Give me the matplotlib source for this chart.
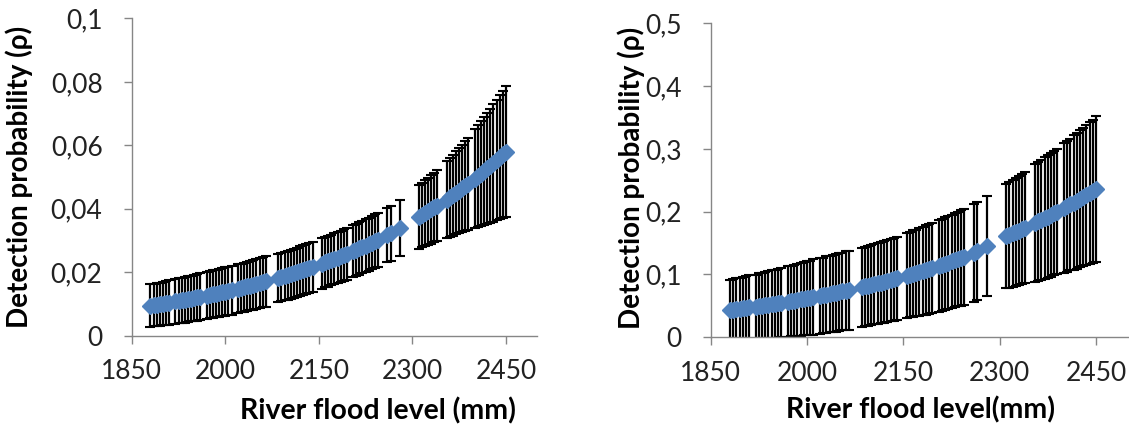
import matplotlib
matplotlib.use("Agg")
import matplotlib.pyplot as plt
from matplotlib.ticker import FuncFormatter

plt.rcParams['font.family'] = ['Lato', 'DejaVu Sans']

# river flood level (mm), same for both panels
niveau = [1880, 1885, 1890, 1895, 1900, 1905, 1910,
          1920, 1925, 1930, 1935, 1940, 1945, 1950, 1955, 1960,
          1970, 1975, 1980, 1985, 1990, 1995, 2000, 2005, 2010,
          2020, 2025, 2030, 2035, 2040, 2045, 2050, 2055, 2060, 2065,
          2085, 2090, 2095, 2100, 2105, 2110, 2115, 2120, 2125, 2130, 2135, 2140,
          2155, 2160, 2165, 2170, 2175, 2180, 2185, 2190, 2195,
          2205, 2210, 2215, 2220, 2225, 2230, 2235, 2240, 2245,
          2260, 2265, 2280,
          2310, 2315, 2320, 2325, 2330, 2335, 2340,
          2355, 2360, 2365, 2370, 2375, 2380, 2385, 2390,
          2400, 2405, 2410, 2415, 2420, 2425, 2430, 2435, 2440, 2445, 2450]

# left panel: mean detection probability and error
p_gauche = [0.00950, 0.00965, 0.00980, 0.00996, 0.01012, 0.01028, 0.01045,
            0.01079, 0.01096, 0.01114, 0.01131, 0.01149, 0.01168, 0.01186, 0.01205, 0.01225,
            0.01264, 0.01284, 0.01305, 0.01326, 0.01347, 0.01368, 0.01390, 0.01412, 0.01435,
            0.01481, 0.01505, 0.01529, 0.01553, 0.01578, 0.01603, 0.01629, 0.01655, 0.01681, 0.01708,
            0.01820, 0.01849, 0.01879, 0.01909, 0.01939, 0.01970, 0.02002, 0.02034, 0.02066, 0.02099, 0.02133, 0.02167,
            0.02273, 0.02309, 0.02346, 0.02384, 0.02422, 0.02461, 0.02500, 0.02540, 0.02581,
            0.02664, 0.02707, 0.02750, 0.02794, 0.02839, 0.02884, 0.02930, 0.02977, 0.03025,
            0.03173, 0.03224, 0.03381,
            0.03740, 0.03800, 0.03860, 0.03920, 0.03980, 0.04040, 0.04100,
            0.04291, 0.04359, 0.04429, 0.04500, 0.04572, 0.04645, 0.04719, 0.04795,
            0.04950, 0.05029, 0.05109, 0.05191, 0.05274, 0.05359, 0.05444, 0.05532, 0.05620, 0.05710, 0.05801]
err_gauche = [0.0067, 0.0067, 0.0068, 0.0068, 0.0069, 0.0069, 0.0070,
              0.0070, 0.0071, 0.0071, 0.0072, 0.0072, 0.0072, 0.0073, 0.0073, 0.0074,
              0.0074, 0.0074, 0.0075, 0.0075, 0.0075, 0.0076, 0.0076, 0.0076, 0.0077,
              0.0077, 0.0077, 0.0077, 0.0078, 0.0078, 0.0078, 0.0078, 0.0079, 0.0079, 0.0079,
              0.0076, 0.0076, 0.0076, 0.0077, 0.0077, 0.0077, 0.0077, 0.0078, 0.0078, 0.0078, 0.0078, 0.0079,
              0.0079, 0.0079, 0.0080, 0.0080, 0.0080, 0.0081, 0.0081, 0.0081, 0.0082,
              0.0082, 0.0082, 0.0083, 0.0083, 0.0083, 0.0084, 0.0084, 0.0085, 0.0085,
              0.0086, 0.0087, 0.0088,
              0.0100, 0.0102, 0.0104, 0.0106, 0.0108, 0.0110, 0.0113,
              0.0122, 0.0125, 0.0128, 0.0131, 0.0134, 0.0138, 0.0141, 0.0145,
              0.0155, 0.0160, 0.0165, 0.0170, 0.0175, 0.0180, 0.0185, 0.0190, 0.0195, 0.0200, 0.0206]

# right panel
p_droite = [0.04350, 0.04415, 0.04481, 0.04548, 0.04615, 0.04684, 0.04754,
            0.04897, 0.04970, 0.05044, 0.05119, 0.05195, 0.05272, 0.05351, 0.05431, 0.05512,
            0.05677, 0.05762, 0.05848, 0.05935, 0.06023, 0.06113, 0.06204, 0.06296, 0.06390,
            0.06582, 0.06680, 0.06780, 0.06881, 0.06983, 0.07087, 0.07193, 0.07300, 0.07409, 0.07519,
            0.07978, 0.08097, 0.08217, 0.08340, 0.08464, 0.08590, 0.08718, 0.08848, 0.08980, 0.09114, 0.09250, 0.09388,
            0.09814, 0.09960, 0.10109, 0.10260, 0.10413, 0.10568, 0.10725, 0.10885, 0.11047,
            0.11378, 0.11548, 0.11720, 0.11895, 0.12072, 0.12252, 0.12435, 0.12620, 0.12808,
            0.13450, 0.13700, 0.14500,
            0.1610, 0.1632, 0.1655, 0.1677, 0.1700, 0.1724, 0.1747,
            0.1820, 0.1845, 0.1871, 0.1896, 0.1922, 0.1949, 0.1976, 0.2003,
            0.2058, 0.2087, 0.2115, 0.2144, 0.2174, 0.2204, 0.2234, 0.2265, 0.2296, 0.2328, 0.2360]
err_droite = [0.048, 0.048, 0.049, 0.049, 0.050, 0.050, 0.051,
              0.051, 0.052, 0.052, 0.053, 0.053, 0.054, 0.054, 0.055, 0.055,
              0.056, 0.056, 0.057, 0.057, 0.058, 0.058, 0.059, 0.059, 0.060,
              0.060, 0.060, 0.061, 0.061, 0.061, 0.062, 0.062, 0.062, 0.063, 0.063,
              0.063, 0.063, 0.064, 0.064, 0.064, 0.064, 0.065, 0.065, 0.065, 0.065, 0.066, 0.066,
              0.068, 0.068, 0.069, 0.069, 0.070, 0.070, 0.071, 0.071, 0.072,
              0.073, 0.073, 0.074, 0.074, 0.074, 0.075, 0.075, 0.076, 0.076,
              0.078, 0.078, 0.080,
              0.083, 0.084, 0.085, 0.086, 0.087, 0.088, 0.089,
              0.094, 0.095, 0.096, 0.097, 0.098, 0.099, 0.099, 0.100,
              0.103, 0.104, 0.105, 0.107, 0.108, 0.109, 0.110, 0.112, 0.113, 0.114, 0.116]

x_ticks = [1850, 2000, 2150, 2300, 2450]
y_ticks_gauche = [0, 0.02, 0.04, 0.06, 0.08, 0.1]
y_ticks_droite = [0, 0.1, 0.2, 0.3, 0.4, 0.5]

bleu = '#4F81BD'
gris = '#868686'


def virgule(v, pos):
    s = f"{v:.2f}".rstrip('0').rstrip('.')
    return s.replace('.', ',')


def panneau(ax, p, err, yticks):
    ax.errorbar(niveau, p, yerr=err, fmt='none', ecolor='black',
                elinewidth=1.6, capsize=3.5, capthick=1.5, zorder=2)
    ax.plot(niveau, p, linestyle='none', marker='D', markersize=8.5,
            color=bleu, markeredgecolor=bleu, zorder=3)
    ax.set_xlim(1850, 2500)
    ax.set_ylim(yticks[0], yticks[-1])
    ax.set_xticks(x_ticks)
    ax.set_yticks(yticks)
    ax.yaxis.set_major_formatter(FuncFormatter(virgule))
    for s in ['top', 'right']:
        ax.spines[s].set_visible(False)
    for s in ['left', 'bottom']:
        ax.spines[s].set_color(gris)
        ax.spines[s].set_linewidth(1.0)
    ax.tick_params(axis='both', colors=gris, length=6, width=1.0,
                   labelsize=19, labelcolor='#222222')
    ax.tick_params(axis='x', pad=11)
    ax.tick_params(axis='y', pad=15)


fig = plt.figure(figsize=(11.29, 4.30), dpi=100)
ax1 = fig.add_axes([0.1167, 0.2193, 0.3590, 0.7380])
ax2 = fig.add_axes([0.6295, 0.2156, 0.3697, 0.7302])
ax1.patch.set_alpha(0)
ax2.patch.set_alpha(0)

panneau(ax1, p_gauche, err_gauche, y_ticks_gauche)
panneau(ax2, p_droite, err_droite, y_ticks_droite)

fig.text(378 / 1129, 1 - 411 / 430, 'River flood level (mm)', ha='center', va='center',
         fontsize=20.5, fontweight='bold')
fig.text(920 / 1129, 1 - 410 / 430, 'River flood level(mm)', ha='center', va='center',
         fontsize=20.5, fontweight='bold')
fig.text(19 / 1129, 1 - 177 / 430, 'Detection probability (ρ)', ha='center', va='center',
         rotation=90, fontsize=20, fontweight='bold')
fig.text(631 / 1129, 1 - 178 / 430, 'Detection probability (ρ)', ha='center', va='center',
         rotation=90, fontsize=20, fontweight='bold')

fig.savefig('out.png', dpi=100)
